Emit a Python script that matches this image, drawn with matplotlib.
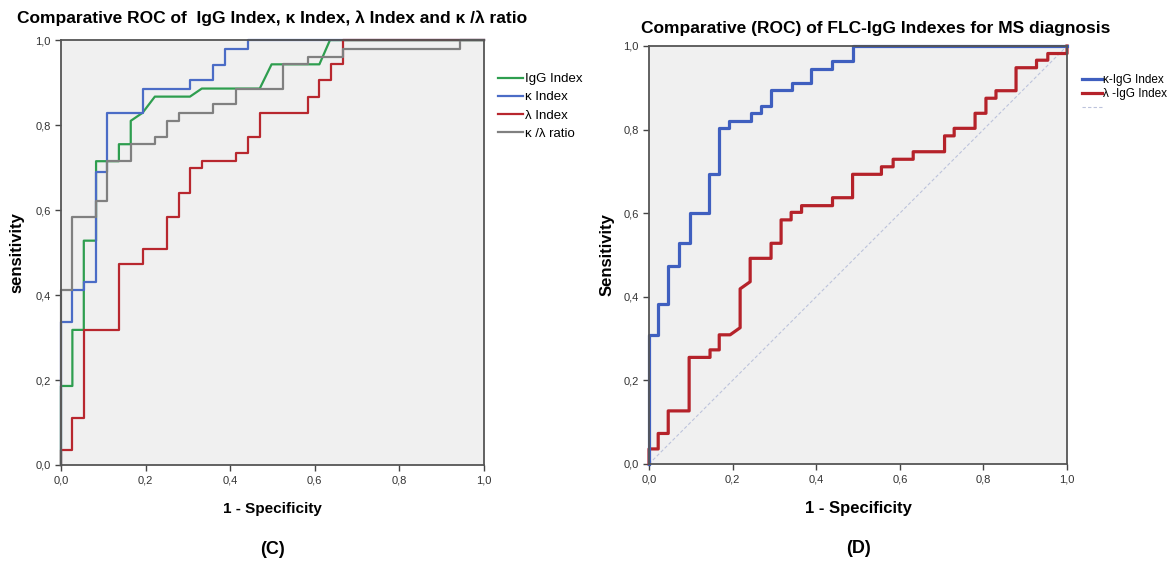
import matplotlib
matplotlib.use("Agg")
import matplotlib.pyplot as plt
from matplotlib.ticker import FuncFormatter

plt.rcParams['font.family'] = ['Liberation Sans', 'DejaVu Sans']

# ---- panel C: ROC points (1 - specificity, sensitivity) ----
igg_fpr = [0, 0, 0.027, 0.027, 0.054, 0.054, 0.083, 0.083, 0.137, 0.137, 0.165, 0.165, 0.193, 0.222,
           0.305, 0.333, 0.47, 0.498, 0.611, 0.636, 1]
igg_tpr = [0, 0.186, 0.186, 0.318, 0.318, 0.528, 0.528, 0.715, 0.715, 0.755, 0.755, 0.81, 0.829, 0.867,
           0.867, 0.886, 0.886, 0.943, 0.943, 1.0, 1]

kappa_fpr = [0, 0, 0.027, 0.027, 0.054, 0.054, 0.083, 0.083, 0.108, 0.108, 0.193, 0.193, 0.305, 0.305,
             0.36, 0.36, 0.388, 0.388, 0.443, 0.443, 1]
kappa_tpr = [0, 0.337, 0.337, 0.412, 0.412, 0.431, 0.431, 0.69, 0.69, 0.829, 0.829, 0.886, 0.886, 0.906,
             0.906, 0.941, 0.941, 0.98, 0.98, 1, 1]

lambda_fpr = [0, 0, 0.027, 0.027, 0.054, 0.054, 0.137, 0.137, 0.195, 0.195, 0.25, 0.25, 0.279, 0.279,
              0.305, 0.305, 0.333, 0.333, 0.415, 0.415, 0.443, 0.443, 0.47, 0.47, 0.583, 0.583, 0.611,
              0.611, 0.638, 0.638, 0.666, 0.666, 1]
lambda_tpr = [0, 0.035, 0.035, 0.11, 0.11, 0.318, 0.318, 0.472, 0.472, 0.508, 0.508, 0.583, 0.583, 0.641,
              0.641, 0.698, 0.698, 0.716, 0.716, 0.735, 0.735, 0.772, 0.772, 0.829, 0.829, 0.867, 0.867,
              0.906, 0.906, 0.943, 0.943, 1.0, 1]

ratio_fpr = [0, 0, 0.027, 0.027, 0.083, 0.083, 0.108, 0.108, 0.165, 0.165, 0.222, 0.222, 0.25, 0.25,
             0.279, 0.279, 0.36, 0.36, 0.415, 0.415, 0.526, 0.526, 0.583, 0.583, 0.666, 0.666, 0.943,
             0.943, 1]
ratio_tpr = [0, 0.412, 0.412, 0.583, 0.583, 0.622, 0.622, 0.716, 0.716, 0.755, 0.755, 0.772, 0.772, 0.81,
             0.81, 0.829, 0.829, 0.849, 0.849, 0.886, 0.886, 0.943, 0.943, 0.96, 0.96, 0.98, 0.98,
             1, 1]

# ---- panel D ----
kigg_fpr = [0, 0, 0.022, 0.022, 0.046, 0.046, 0.072, 0.072, 0.098, 0.098, 0.144, 0.144, 0.168, 0.168,
            0.192, 0.192, 0.243, 0.243, 0.267, 0.267, 0.292, 0.292, 0.341, 0.341, 0.388, 0.388, 0.437,
            0.437, 0.487, 0.487, 1]
kigg_tpr = [0, 0.309, 0.309, 0.383, 0.383, 0.474, 0.474, 0.528, 0.528, 0.601, 0.601, 0.693, 0.693, 0.803,
            0.803, 0.821, 0.821, 0.839, 0.839, 0.856, 0.856, 0.895, 0.895, 0.912, 0.912, 0.946, 0.946,
            0.964, 0.964, 1, 1]

ligg_fpr = [0, 0, 0.022, 0.022, 0.046, 0.046, 0.096, 0.096, 0.146, 0.146, 0.168, 0.168, 0.194, 0.218,
            0.218, 0.242, 0.242, 0.292, 0.292, 0.316, 0.316, 0.34, 0.34, 0.365, 0.365, 0.439, 0.439,
            0.487, 0.487, 0.556, 0.556, 0.584, 0.584, 0.632, 0.632, 0.707, 0.707, 0.73, 0.73, 0.78,
            0.78, 0.806, 0.806, 0.83, 0.83, 0.878, 0.878, 0.927, 0.927, 0.954, 0.954, 1, 1]
ligg_tpr = [0, 0.036, 0.036, 0.073, 0.073, 0.127, 0.127, 0.255, 0.255, 0.273, 0.273, 0.309, 0.309, 0.326,
            0.419, 0.436, 0.492, 0.492, 0.528, 0.528, 0.584, 0.584, 0.602, 0.602, 0.618, 0.618, 0.637,
            0.637, 0.693, 0.693, 0.711, 0.711, 0.729, 0.729, 0.747, 0.747, 0.785, 0.785, 0.803, 0.803,
            0.839, 0.839, 0.875, 0.875, 0.893, 0.893, 0.948, 0.948, 0.966, 0.966, 0.982, 0.982, 1]

ticks = [0, 0.2, 0.4, 0.6, 0.8, 1.0]
comma = FuncFormatter(lambda v, p: ("%.1f" % v).replace(".", ","))


def style_axes(ax):
    ax.set_facecolor('#f0f0f0')
    ax.set_xlim(0, 1)
    ax.set_ylim(0, 1)
    ax.set_xticks(ticks)
    ax.set_yticks(ticks)
    ax.xaxis.set_major_formatter(comma)
    ax.yaxis.set_major_formatter(comma)
    ax.tick_params(direction='out', length=4, width=1, colors='#444444', labelsize=8, labelcolor='#333333')
    for s in ax.spines.values():
        s.set_color('#555555')
        s.set_linewidth(1.3)


fig = plt.figure(figsize=(11.7, 5.65), dpi=100)

# panel C
ax1 = fig.add_axes([0.0521, 0.177, 0.3615, 0.752])
style_axes(ax1)
ax1.plot(igg_fpr, igg_tpr, color='#2e9e4f', lw=1.6, label='IgG Index')
ax1.plot(kappa_fpr, kappa_tpr, color='#4b6cc6', lw=1.6, label='κ Index')
ax1.plot(lambda_fpr, lambda_tpr, color='#b8272e', lw=1.6, label='λ Index')
ax1.plot(ratio_fpr, ratio_tpr, color='#808080', lw=1.6, label='κ /λ ratio')
for l in ax1.lines:
    l.set_clip_on(False)
ax1.set_title('Comparative ROC of  IgG Index, κ Index, λ Index and κ /λ ratio',
              fontsize=12.5, fontweight='bold', pad=12)
ax1.set_xlabel('1 - Specificity', fontsize=11, fontweight='bold', labelpad=12)
ax1.set_ylabel('sensitivity', fontsize=12, fontweight='bold', labelpad=8)
ax1.legend(loc='upper left', bbox_to_anchor=(1.02, 0.935), frameon=False, fontsize=9.5,
           handlelength=1.9, handletextpad=0.2, labelspacing=0.45, borderaxespad=0)
ax1.text(0.5, -0.2, '(C)', transform=ax1.transAxes, ha='center', va='center',
         fontsize=13, fontweight='bold')

# panel D
ax2 = fig.add_axes([0.5547, 0.1788, 0.3573, 0.7398])
style_axes(ax2)
d = ax2.plot([0, 1], [0, 1], color='#bcc3dc', lw=0.8, ls=(0, (3, 2)))[0]
r = ax2.plot(ligg_fpr, ligg_tpr, color='#b5222a', lw=2.3)[0]
b = ax2.plot(kigg_fpr, kigg_tpr, color='#3f5fbf', lw=2.3)[0]
for l in ax2.lines:
    l.set_clip_on(False)
ax2.set_title('Comparative (ROC) of FLC-IgG Indexes for MS diagnosis',
              fontsize=12.5, fontweight='bold', pad=9, x=0.543)
ax2.set_xlabel('1 - Specificity', fontsize=12, fontweight='bold', labelpad=12)
ax2.set_ylabel('Sensitivity', fontsize=12, fontweight='bold', labelpad=6)
ax2.legend([b, r, d], ['κ-IgG Index', 'λ -IgG Index', ''], loc='upper left',
           bbox_to_anchor=(1.025, 0.945), frameon=False, fontsize=8.5,
           handlelength=1.7, handletextpad=0.1, labelspacing=0.2, borderaxespad=0)
ax2.text(0.5, -0.203, '(D)', transform=ax2.transAxes, ha='center', va='center',
         fontsize=13, fontweight='bold')

fig.savefig('out.png', dpi=100)
